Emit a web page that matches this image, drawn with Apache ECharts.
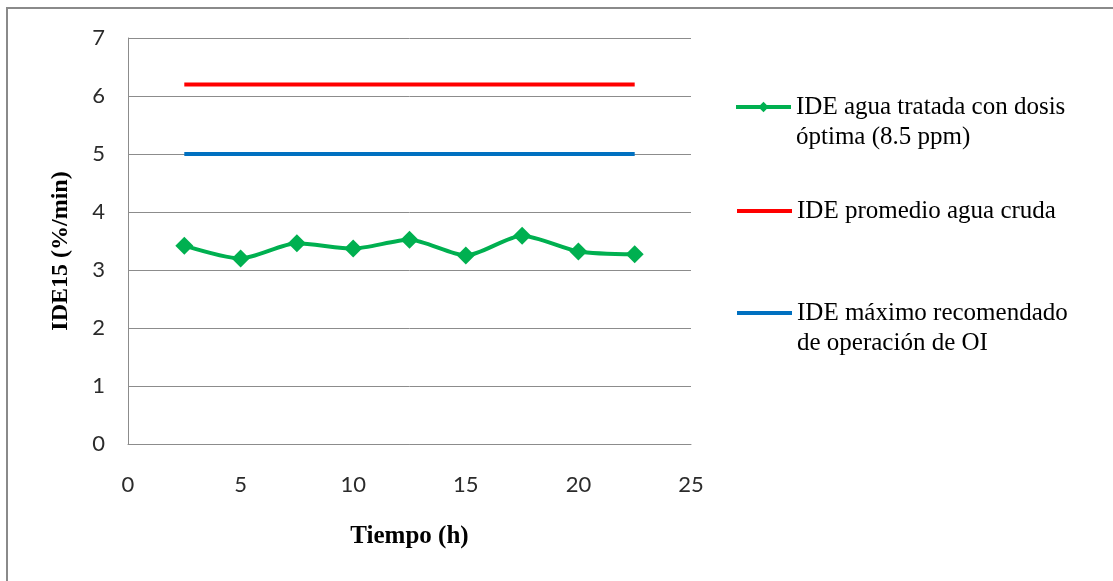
<!DOCTYPE html>
<html>
<head>
<meta charset="utf-8">
<title>IDE15</title>
<script src="https://cdn.jsdelivr.net/npm/echarts@6/dist/echarts.min.js"></script>
<style>
  html, body { margin: 0; padding: 0; background: #fff; }
  #chart { width: 1113px; height: 581px; }
</style>
</head>
<body>
<div id="chart"></div>
<script>
// Tiempo de muestreo (h)
const tiempo = [2.5, 5, 7.5, 10, 12.5, 15, 17.5, 20, 22.5];
// IDE15 (%/min) del agua tratada con dosis óptima
const ideTratada = [3.42, 3.20, 3.46, 3.37, 3.52, 3.25, 3.59, 3.32, 3.27];
// IDE promedio del agua cruda
const idePromedioCruda = [6.2, 6.2, 6.2, 6.2, 6.2, 6.2, 6.2, 6.2, 6.2];
// IDE máximo recomendado para operación de ósmosis inversa
const ideMaximoOI = [5, 5, 5, 5, 5, 5, 5, 5, 5];

const nombres = [
  'IDE agua tratada con dosis\nóptima (8.5 ppm)',
  'IDE promedio agua cruda',
  'IDE máximo recomendado\nde operación de OI'
];
const ticksX = [0, 5, 10, 15, 20, 25];
const ticksY = [0, 1, 2, 3, 4, 5, 6, 7];

const pares = (xs, ys) => xs.map((x, i) => [x, ys[i]]);

const gris = '#8c8c8c';
const fuenteEje = 'Lato, "Liberation Sans", sans-serif';
const fuenteTitulo = '"Liberation Serif", "DejaVu Serif", serif';

// one legend block per series; an empty first line keeps the icon
// level with the first line of a two-line label
function leyenda(nombre, left, top, multilinea, conSimbolo) {
  const item = conSimbolo ? { name: nombre } : { name: nombre, icon: 'rect' };
  return {
    data: [item],
    left: left,
    top: top,
    padding: 0,
    itemWidth: 55,
    itemHeight: conSimbolo ? 13 : 4,
    selectedMode: false,
    lineStyle: { width: 4 },
    formatter: n => (multilinea ? ' \n' : '') + n,
    textStyle: {
      fontFamily: fuenteTitulo,
      fontSize: 25,
      lineHeight: 30,
      color: '#000'
    }
  };
}

const chart = echarts.init(document.getElementById('chart'), null, { renderer: 'canvas' });
chart.setOption({
  backgroundColor: '#fff',
  animation: false,
  grid: { left: 128, right: 422, top: 38, bottom: 137, containLabel: false },
  legend: [
    leyenda(nombres[0], 734, 62, true, true),
    leyenda(nombres[1], 737, 196, false, false),
    leyenda(nombres[2], 737, 268, true, false)
  ],
  xAxis: {
    type: 'value',
    min: 0, max: 25, interval: 5,
    name: 'Tiempo (h)',
    nameLocation: 'middle',
    nameGap: 80,
    nameTextStyle: { fontFamily: fuenteTitulo, fontWeight: 'bold', fontSize: 25, color: '#000' },
    axisLine: { show: true, lineStyle: { color: gris, width: 1 } },
    axisTick: { show: false },
    splitLine: { show: false },
    axisLabel: {
      margin: 30,
      fontFamily: fuenteEje, fontSize: 22, color: '#2b2b2b',
      formatter: v => ticksX.includes(v) ? String(v) : ''
    }
  },
  yAxis: {
    type: 'value',
    min: 0, max: 7, interval: 1,
    name: 'IDE15 (%/min)',
    nameLocation: 'middle',
    nameGap: 55,
    nameTextStyle: {
      fontFamily: fuenteTitulo, fontWeight: 'bold', fontSize: 24, color: '#000',
      padding: [0, 20, 0, 0]
    },
    axisLine: { show: true, lineStyle: { color: gris, width: 1 } },
    axisTick: { show: false },
    splitLine: { show: true, lineStyle: { color: gris, width: 1 } },
    axisLabel: {
      margin: 23,
      fontFamily: fuenteEje, fontSize: 22, color: '#2b2b2b',
      formatter: v => ticksY.includes(v) ? String(v) : ''
    }
  },
  series: [
    {
      name: nombres[0],
      type: 'line',
      data: pares(tiempo, ideTratada),
      smooth: 0.25,
      symbol: 'diamond',
      symbolSize: 18,
      color: '#00b050',
      lineStyle: { color: '#00b050', width: 4 },
      itemStyle: { color: '#00b050' },
      z: 4
    },
    {
      name: nombres[1],
      type: 'line',
      data: pares(tiempo, idePromedioCruda),
      symbol: 'none',
      color: '#ff0000',
      lineStyle: { color: '#ff0000', width: 4 },
      z: 3
    },
    {
      name: nombres[2],
      type: 'line',
      data: pares(tiempo, ideMaximoOI),
      symbol: 'none',
      color: '#0070c0',
      lineStyle: { color: '#0070c0', width: 4 },
      z: 3
    }
  ],
  graphic: [
    // chart frame: top and left edges
    {
      type: 'polyline',
      silent: true,
      shape: { points: [[7, 581], [7, 8], [1113, 8]] },
      style: { stroke: '#8a8a8a', lineWidth: 2, fill: null }
    }
  ]
});
</script>
</body>
</html>
